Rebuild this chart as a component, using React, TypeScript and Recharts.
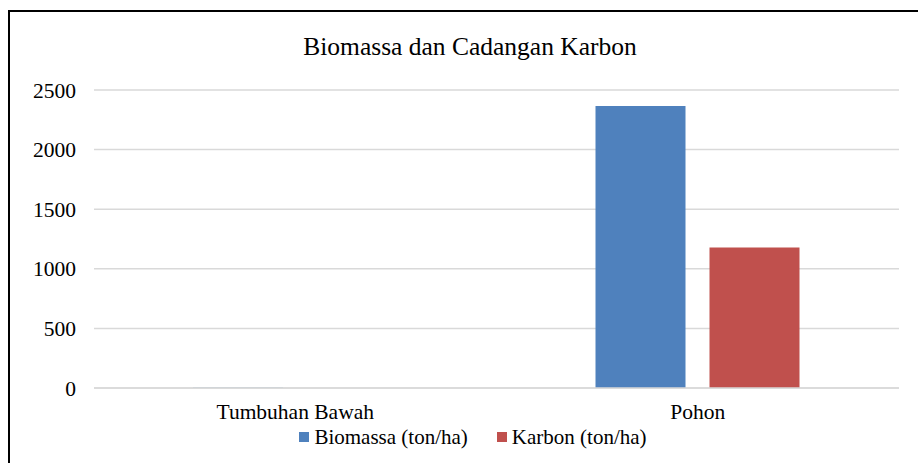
import { BarChart, Bar, XAxis, YAxis, CartesianGrid, Legend } from 'recharts'

const categories = ['Tumbuhan Bawah', 'Pohon']
const biomassa = [1.8, 2365]
const karbon = [0.9, 1178]
const yTicks = [0, 500, 1000, 1500, 2000, 2500]

const data = categories.map((name, i) => ({
  name,
  biomassa: biomassa[i],
  karbon: karbon[i],
}))

const FONT = '"Liberation Serif", "Times New Roman", serif'

// eslint-disable-next-line @typescript-eslint/no-explicit-any
function LegendRow(props: any) {
  const items = props.payload || []
  return (
    <div style={{ display: 'flex', justifyContent: 'center', gap: 29, fontFamily: FONT, fontSize: 21, color: '#000', height: 24, lineHeight: '24px' }}>
      {/* eslint-disable-next-line @typescript-eslint/no-explicit-any */}
      {items.map((it: any) => (
        <span key={it.value} style={{ display: 'flex', alignItems: 'center' }}>
          <span style={{ display: 'inline-block', width: 10, height: 10, background: it.color, marginRight: 5 }} />
          {it.value}
        </span>
      ))}
    </div>
  )
}

export default function App() {
  return (
    <div style={{ position: 'fixed', left: 0, top: 0, width: 918, height: 463, background: '#fff', overflow: 'hidden' }}>
      <div
        style={{
          position: 'absolute',
          left: 8,
          top: 10,
          width: 940,
          height: 470,
          borderLeft: '2px solid #000',
          borderTop: '2px solid #000',
        }}
      />
      <div
        style={{
          position: 'absolute',
          left: 0,
          top: 32,
          width: 940,
          textAlign: 'center',
          fontFamily: FONT,
          fontSize: 25.5,
          color: '#000',
        }}
      >
        Biomassa dan Cadangan Karbon
      </div>
      <div style={{ position: 'absolute', left: 0, top: 0 }}>
        <BarChart
          width={918}
          height={463}
          data={data}
          margin={{ top: 90, right: 19, bottom: 21, left: 0 }}
          barSize={90}
          barGap={24}
        >
          <CartesianGrid vertical={false} stroke="#d9d9d9" strokeWidth={1.5} />
          <XAxis
            dataKey="name"
            axisLine={{ stroke: '#d9d9d9', strokeWidth: 1.5 }}
            tickLine={false}
            tickSize={0}
            tickMargin={16}
            tick={{ fill: '#000', fontFamily: FONT, fontSize: 21.5 }}
            interval={0}
          />
          <YAxis
            width={94}
            domain={[0, 2500]}
            ticks={yTicks}
            axisLine={false}
            tickLine={false}
            tickSize={0}
            tickMargin={18}
            tick={{ fill: '#000', fontFamily: FONT, fontSize: 21.5 }}
          />
          <Legend
            verticalAlign="bottom"
            height={24}
            content={<LegendRow />}
            wrapperStyle={{ left: 0, width: 946, top: 425 }}
          />
          <Bar dataKey="biomassa" name="Biomassa (ton/ha)" fill="#4f81bd" isAnimationActive={false} />
          <Bar dataKey="karbon" name="Karbon (ton/ha)" fill="#c0504d" isAnimationActive={false} />
        </BarChart>
      </div>
    </div>
  )
}
